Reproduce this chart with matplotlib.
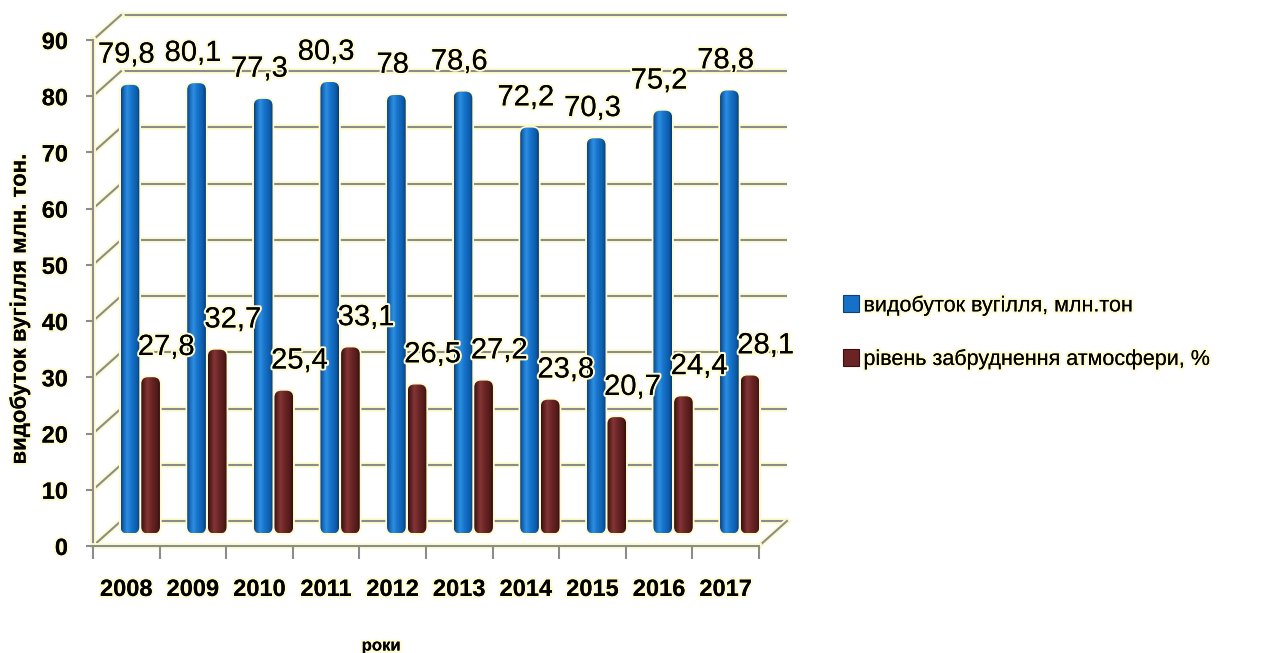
import matplotlib
matplotlib.use("Agg")
import numpy as np
import matplotlib.pyplot as plt
import matplotlib.transforms as mtransforms
import matplotlib.patheffects as pe
from matplotlib.patches import FancyBboxPatch, Patch
from matplotlib.colors import LinearSegmentedColormap

# ---- data -------------------------------------------------------------
years = ["2008", "2009", "2010", "2011", "2012", "2013", "2014", "2015", "2016", "2017"]
coal_output = [79.8, 80.1, 77.3, 80.3, 78, 78.6, 72.2, 70.3, 75.2, 78.8]
air_pollution = [27.8, 32.7, 25.4, 33.1, 26.5, 27.2, 23.8, 20.7, 24.4, 28.1]
y_ticks = [0, 10, 20, 30, 40, 50, 60, 70, 80, 90]
series_names = ["видобуток вугілля, млн.тон", "рівень забруднення атмосфери, %"]
y_title = "видобуток вугілля млн. тон."
x_title = "роки"

# ---- style -------------------------------------------------------------
plt.rcParams["font.family"] = ["Liberation Sans", "DejaVu Sans"]
grid_c = "#8c8c8c"
halo_c = "#fdfbcf"
blue_face = "#1670c8"
red_face = "#6b2424"

text_glow = [pe.withStroke(linewidth=3, foreground=halo_c), pe.Normal()]
line_glow = [pe.Stroke(linewidth=4.2, foreground=halo_c), pe.Normal()]

W, H = 1273, 653
fig = plt.figure(figsize=(W / 100, H / 100), dpi=100)
fig.patch.set_facecolor("white")

ax_left, ax_bottom, ax_w, ax_h = 93, 107, 666, 506
ax = fig.add_axes([ax_left / W, ax_bottom / H, ax_w / W, ax_h / H])
ax.patch.set_visible(False)
xmin, xmax = -0.5, len(years) - 0.5
ymin, ymax = 0, 90

# depth of the pseudo-3D box, in pixels
depth_dx, depth_dy = 28, 25
back = mtransforms.offset_copy(ax.transData, fig=fig, x=depth_dx, y=depth_dy, units="dots")
mid = mtransforms.offset_copy(ax.transData, fig=fig, x=depth_dx / 2, y=depth_dy / 2, units="dots")


def depth_segment(x, y):
    """Transform drawing a pixel segment anchored at data point (x, y)."""
    return mtransforms.Affine2D() + mtransforms.ScaledTranslation(x, y, ax.transData)


# back wall gridlines and left-wall diagonals
for v in y_ticks:
    ax.plot([xmin, xmax], [v, v], transform=back, color=grid_c, lw=1.5,
            clip_on=False, zorder=1, path_effects=line_glow, solid_capstyle="butt")
    ax.plot([0, depth_dx], [0, depth_dy], transform=depth_segment(xmin, v),
            color=grid_c, lw=1.5, clip_on=False, zorder=1, path_effects=line_glow)
# floor right edge
ax.plot([0, depth_dx], [0, depth_dy], transform=depth_segment(xmax, ymin),
        color=grid_c, lw=1.5, clip_on=False, zorder=1, path_effects=line_glow)

# ---- cylinders -----------------------------------------------------------
x = np.arange(len(years))
bar_w = 0.28
offs = 0.155
blue_cmap = LinearSegmentedColormap.from_list(
    "blue_cyl", [(0, "#093a72"), (0.12, "#1262b2"), (0.33, "#2e8ee0"),
                 (0.55, "#1674cc"), (0.85, "#0d5aa8"), (1, "#073870")])
red_cmap = LinearSegmentedColormap.from_list(
    "red_cyl", [(0, "#350d0d"), (0.12, "#561b1b"), (0.33, "#833636"),
                (0.55, "#6c2626"), (0.85, "#521a1a"), (1, "#330c0c")])

blue_bars = ax.bar(x - offs, coal_output, bar_w, transform=mid, zorder=3)
red_bars = ax.bar(x + offs, air_pollution, bar_w, transform=mid, zorder=3)

px_per_x = ax_w / (xmax - xmin)
px_per_y = ax_h / (ymax - ymin)
aspect = px_per_x / px_per_y
round_x = 0.1
grad = np.linspace(0, 1, 256).reshape(1, -1)

for bars, cmap in ((blue_bars, blue_cmap), (red_bars, red_cmap)):
    for rect in bars:
        rect.set_visible(False)
        x0, w, h = rect.get_x(), rect.get_width(), rect.get_height()
        halo = FancyBboxPatch((x0, 0), w, h,
                              boxstyle=f"round,pad=0,rounding_size={round_x}",
                              mutation_aspect=aspect, transform=mid,
                              facecolor="none", edgecolor=halo_c, lw=2.5,
                              zorder=2.9, clip_on=False)
        ax.add_patch(halo)
        body = FancyBboxPatch((x0, 0), w, h,
                              boxstyle=f"round,pad=0,rounding_size={round_x}",
                              mutation_aspect=aspect, transform=mid,
                              facecolor="none", edgecolor="none", zorder=3,
                              clip_on=False)
        ax.add_patch(body)
        img = ax.imshow(grad, cmap=cmap, extent=[x0, x0 + w, 0, h],
                        transform=mid, aspect="auto", zorder=3,
                        interpolation="bilinear")
        img.set_clip_path(body)


def fmt(v):
    return f"{v:g}".replace(".", ",")


# data labels
for i, v in enumerate(coal_output):
    ax.text(i, v + 7.6, fmt(v), ha="center", va="center", fontsize=21,
            color="black", zorder=4, clip_on=False, path_effects=text_glow)
for i, v in enumerate(air_pollution):
    ax.text(i + 0.6, v + 7.6, fmt(v), ha="center", va="center", fontsize=21,
            color="black", zorder=4, clip_on=False, path_effects=text_glow)

# ---- axes ----------------------------------------------------------------
ax.set_xlim(xmin, xmax)
ax.set_ylim(ymin, ymax)
for s in ("top", "right"):
    ax.spines[s].set_visible(False)
for s in ("left", "bottom"):
    ax.spines[s].set_color(grid_c)
    ax.spines[s].set_linewidth(1.5)
    ax.spines[s].set_path_effects(line_glow)
    ax.spines[s].set_zorder(1.5)

ax.set_yticks(y_ticks)
ax.set_yticklabels([str(t) for t in y_ticks])
ax.tick_params(axis="y", direction="out", length=5, width=1.5, color=grid_c,
               pad=13, labelsize=17)
ax.set_xticks(x)
ax.set_xticklabels(years)
ax.set_xticks(np.arange(xmin, xmax + 0.01, 1), minor=True)
ax.tick_params(axis="x", which="major", length=0, pad=23, labelsize=17)
ax.tick_params(axis="x", which="minor", direction="out", length=9, width=1.5,
               color=grid_c)
for lab in ax.get_xticklabels() + ax.get_yticklabels():
    lab.set_fontweight("bold")
    lab.set_path_effects(text_glow)

ax.set_ylabel(y_title, fontsize=16, fontweight="bold", va="center",
              path_effects=text_glow)
ax.yaxis.set_label_coords((20 - ax_left) / ax_w, (H - 309 - ax_bottom) / ax_h)
ax.set_xlabel(x_title, fontsize=12, fontweight="bold", va="center",
              path_effects=text_glow)
ax.xaxis.set_label_coords((381 - ax_left) / ax_w, (H - 646 - ax_bottom) / ax_h)

# ---- legend ----------------------------------------------------------------
handles = [Patch(facecolor=blue_face, edgecolor="#0a3f7a", lw=0.8),
           Patch(facecolor=red_face, edgecolor="#3a0f0f", lw=0.8)]
leg = fig.legend(handles, series_names, loc="center left",
                 bbox_to_anchor=(843 / W, 1 - 332.5 / H), frameon=False,
                 fontsize=15.5, handlelength=0.75, handleheight=0.85,
                 handletextpad=0.2, labelspacing=1.5, borderpad=0,
                 borderaxespad=0)
for t in leg.get_texts():
    t.set_path_effects(text_glow)

fig.savefig("out.png", dpi=100)
